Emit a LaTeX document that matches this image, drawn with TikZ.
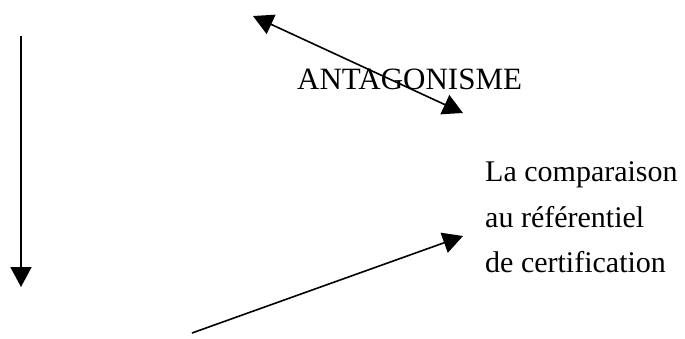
\documentclass[tikz,border=0pt]{standalone}
\usepackage{fontspec}
\setmainfont{Liberation Serif}
\usetikzlibrary{arrows.meta}
\begin{document}
\begin{tikzpicture}[x=1pt,y=-1pt,
  conn/.style={line width=1.6pt, -{Triangle[length=20pt,width=21pt]}},
  biconn/.style={line width=1.6pt, {Triangle[length=20pt,width=21pt]}-{Triangle[length=20pt,width=21pt]}},
  lbl/.style={inner sep=0pt, font=\fontsize{30}{45.5}\selectfont, align=left}]
\useasboundingbox (0,0) rectangle (685,338);
% text
\node[lbl, anchor=base west, font=\fontsize{31}{40}\selectfont] (antag) at (297,89) {ANTAGONISME};
\node[lbl, anchor=north west] (comp) at (485,161.5) {La comparaison\\au référentiel\\de certification};
% arrow ends
\coordinate (vtop) at (21,36);
\coordinate (vbot) at (21,287);
\coordinate (da) at (253,16);
\coordinate (db) at (463,113);
\coordinate (ls) at (192,333);
\coordinate (le) at (463,236);
% connectors
\draw[conn] (vtop) -- (vbot);
\draw[biconn] (da) -- (db);
\draw[conn] (ls) -- (le);
\end{tikzpicture}
\end{document}
